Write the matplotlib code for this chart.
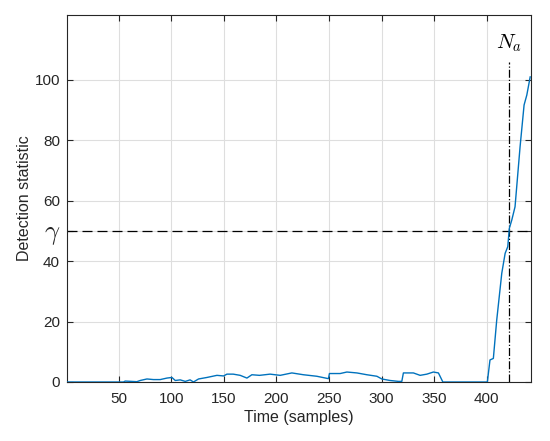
import matplotlib
matplotlib.use("Agg")
import matplotlib.pyplot as plt

# detection statistic (sample index, value)
TIME = [1, 50, 54.7, 56.3, 62, 67.4, 70.6, 77, 83.2, 89.6, 96, 100.7, 103.9,
        108.6, 113.4, 118, 121.2, 126, 134, 143.5, 149.8, 153, 159, 165.6,
        172, 176.7, 184, 194, 203.6, 214.7, 225.7, 238.4, 249.5, 250.4,
        260.6, 267, 276.5, 286, 295.5, 300.2, 308, 316, 319.2, 320.7, 330.2,
        336.6, 343, 349.2, 354, 358.2, 400.5, 403, 406.2, 409.4, 414.2,
        417.4, 419.9, 421.4, 423.7, 426.8, 431.6, 435.4, 438, 441.2]
STAT = [0, 0, 0, 0.3, 0.2, 0.1, 0.5, 1.0, 0.8, 0.8, 1.3, 1.5, 0.5,
        0.7, 0.2, 0.7, 0.0, 1.0, 1.5, 2.2, 2.0, 2.6, 2.6, 2.2,
        1.3, 2.4, 2.2, 2.6, 2.2, 3.0, 2.4, 1.9, 1.1, 2.8,
        2.8, 3.3, 3.0, 2.4, 1.9, 1.0, 0.5, 0.2, 0.2, 3.0, 3.0,
        2.2, 2.6, 3.3, 3.0, 0.0, 0.0, 7.3, 7.8, 20.5, 36.0,
        42.6, 44.8, 50.9, 53.6, 58.0, 77.9, 91.7, 95.0, 101.0]

GAMMA = 50
N_A = 421
XTICKS = [50, 100, 150, 200, 250, 300, 350, 400]
YTICKS = [0, 20, 40, 50, 60, 80, 100]
YTICKLABELS = ["0", "20", "40", r"$\gamma$", "60", "80", "100"]

plt.rcParams["font.family"] = ["Liberation Sans", "DejaVu Sans"]
plt.rcParams["mathtext.fontset"] = "cm"

fig = plt.figure(figsize=(5.5, 4.41), dpi=100)
ax = fig.add_axes([0.1218, 0.1338, 0.8437, 0.8322])

ax.plot(TIME, STAT, color=(0, 0.447, 0.741), linewidth=1.0, zorder=3)
ax.axhline(GAMMA, color="black", linestyle=(0, (8, 4)), linewidth=0.9, zorder=2)
ax.plot([N_A, N_A], [0, 106], color="black", linestyle="-.", linewidth=0.9, zorder=2)
ax.text(N_A, 112.0, r"$N_a$", ha="center", va="center", fontsize=15)

ax.set_xlim(1, 442)
ax.set_ylim(0, 121.5)
ax.set_xticks(XTICKS)
ax.set_yticks(YTICKS)
ax.set_yticklabels(YTICKLABELS)

ax.grid(True, color="#dedede", linewidth=0.8)
ax.set_axisbelow(True)
ax.tick_params(direction="in", length=4, width=0.8, color="#262626",
               labelsize=11, labelcolor="#262626", top=True, right=True)
ax.tick_params(axis="x", pad=7)
ax.tick_params(axis="y", pad=5)
for lbl in ax.get_yticklabels():
    if lbl.get_text() == r"$\gamma$":
        lbl.set_fontsize(19)
for sp in ax.spines.values():
    sp.set_color("#262626")
    sp.set_linewidth(0.8)

ax.set_xlabel("Time (samples)", fontsize=11.5, labelpad=3, color="#262626")
ax.set_ylabel("Detection statistic", fontsize=11.5, labelpad=2, color="#262626")

fig.savefig("out.png", dpi=100)
